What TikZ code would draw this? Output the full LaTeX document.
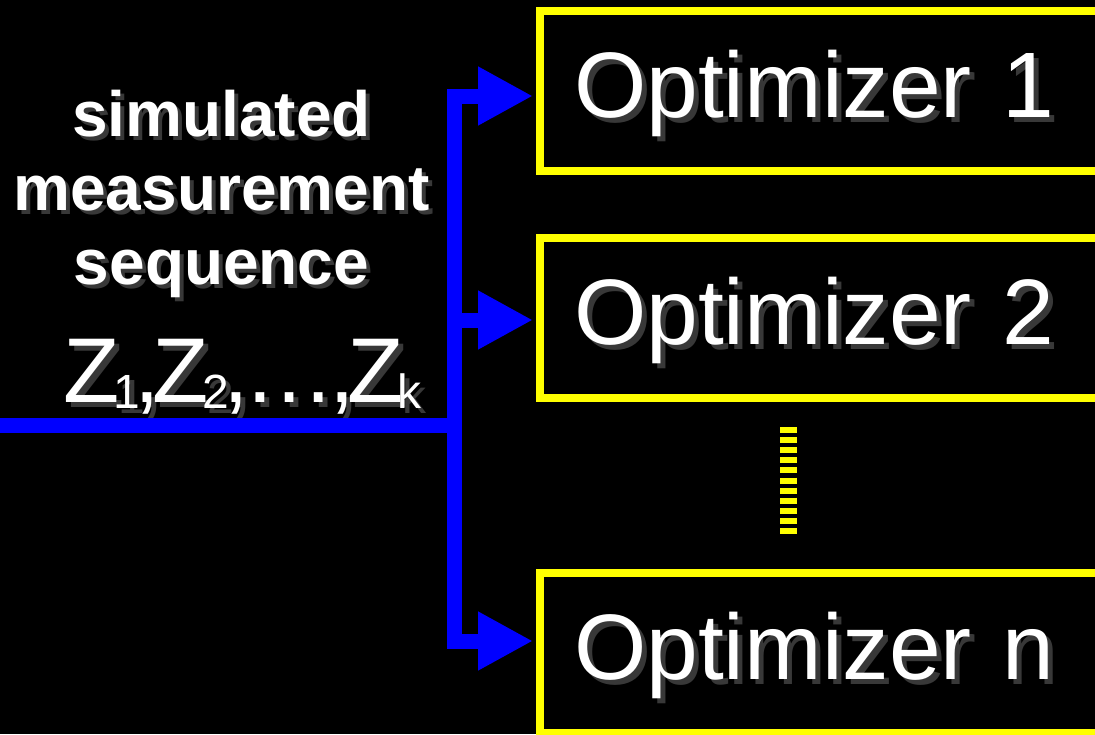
\documentclass[tikz,border=0pt]{standalone}
\usepackage{fontspec}
\setmainfont{Liberation Sans}
\usetikzlibrary{arrows.meta,positioning,calc}
\definecolor{OPTyellow}{RGB}{255,255,0}
\definecolor{OPTblue}{RGB}{0,0,255}
\definecolor{OPTshade}{RGB}{56,56,56}
\newcommand{\shtext}[2][5pt]{\makebox[0pt][l]{\kern#1\raisebox{-#1}{\color{OPTshade}#2}}#2}
\newcommand{\zsub}[1]{\kern-6pt\raisebox{-6pt}{\fontsize{48}{48}\selectfont #1}\kern-6pt}
\tikzstyle{obox}  = [rectangle, draw=OPTyellow, line width=8pt,
                     minimum height=160pt, text width=560pt, align=left,
                     inner xsep=34pt, inner ysep=0pt,
                     text height=70pt, text depth=18pt,
                     text=white, font=\fontsize{93}{93}\selectfont]
\tikzstyle{mtext} = [text=white, align=center, inner sep=0pt,
                     font=\bfseries\fontsize{64}{74}\selectfont]
\tikzstyle{ztext} = [text=white, inner sep=0pt, font=\fontsize{92}{92}\selectfont]
\tikzstyle{flow}  = [draw=OPTblue, line width=15pt, line join=miter]

\begin{document}
\begin{tikzpicture}[x=1pt, y=-1pt, >={Triangle[length=55pt,width=55pt]}]
  \useasboundingbox (0,0) rectangle (1095,734);
  \clip (0,0) rectangle (1095,734);
  \fill[black] (0,0) rectangle (1095,734);

  \node[obox, anchor=north west] (opt1) at (536,7) {\shtext{Optimizer 1}};
  \node[obox, below=59pt of opt1]  (opt2) {\shtext{Optimizer 2}};
  \node[obox, below=167pt of opt2] (optn) {\shtext{Optimizer n}};

  \node[mtext, anchor=base] (seq) at (221.5,284)
    {\shtext[4pt]{simulated}\\\shtext[4pt]{measurement}\\\shtext[4pt]{sequence}};
  \node[ztext, anchor=base west] (zseq) at (63,402)
    {\shtext{Z\zsub{1},\kern-7pt Z\zsub{2},\kern-6pt…\kern-6pt,\kern-7pt Z\zsub{k}}};

  \coordinate (inp) at (0,425);
  \coordinate (jn)  at (454,425);
  \coordinate (b1)  at (454,96);
  \coordinate (b2)  at (454,320);
  \coordinate (bn)  at (454,641);
  \draw[flow] (inp) -- (jn);
  \draw[flow, <->, shorten <=3pt, shorten >=3pt]
    (b1 -| opt1.west) -- (b1) -- (bn) -- (bn -| optn.west);
  \draw[flow, ->, shorten >=3pt] (b2) -- (b2 -| opt2.west);

  % vertical dots between the boxes
  \coordinate (d1) at (788.5,427);
  \coordinate (d2) at (788.5,534);
  \draw[OPTyellow, line width=17pt, dash pattern=on 6pt off 4.1pt] (d1) -- (d2);
\end{tikzpicture}
\end{document}
